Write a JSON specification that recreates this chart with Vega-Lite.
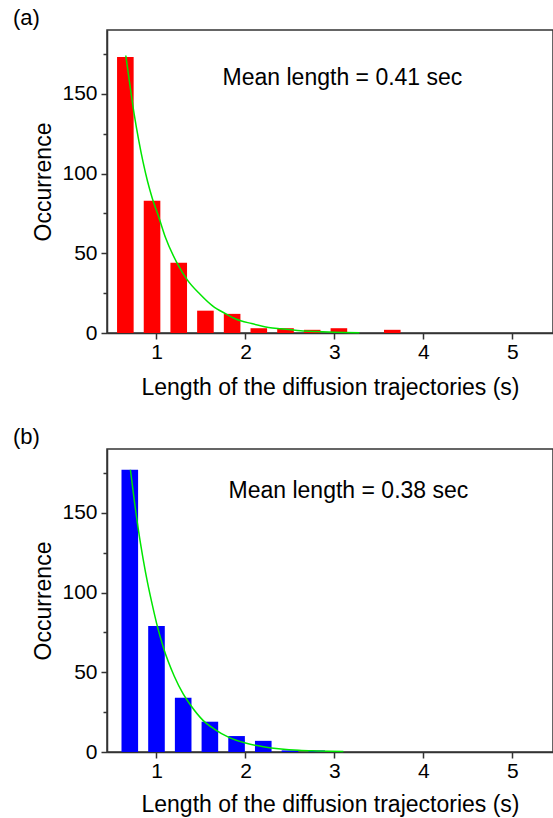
{
  "$schema": "https://vega.github.io/schema/vega-lite/v6.json",
  "padding": {"left": 12, "top": 6, "right": 0, "bottom": 0},
  "background": "white",
  "spacing": 25,
  "config": {
    "font": "Liberation Sans",
    "view": {"stroke": "#333333", "strokeWidth": 1.5},
    "axis": {
      "domainColor": "#333333", "domainWidth": 1.5,
      "tickColor": "#333333", "tickWidth": 1.5,
      "labelFontSize": 21, "labelColor": "#000000",
      "titleFontSize": 23, "titleFontWeight": "normal", "titleColor": "#000000",
      "grid": false
    },
    "title": {"fontSize": 22, "fontWeight": "normal", "anchor": "start", "frame": "group", "color": "#000000"}
  },
  "datasets": {
    "barsA": [
      {"length": 0.65, "count": 173}, {"length": 0.95, "count": 83}, {"length": 1.25, "count": 44},
      {"length": 1.55, "count": 14}, {"length": 1.85, "count": 12}, {"length": 2.15, "count": 3},
      {"length": 2.45, "count": 3}, {"length": 2.75, "count": 2}, {"length": 3.05, "count": 3},
      {"length": 3.65, "count": 2}
    ],
    "curveA": [
      {"length": 0.655, "fit": 174}, {"length": 0.70, "fit": 156}, {"length": 0.75, "fit": 137},
      {"length": 0.80, "fit": 121}, {"length": 0.85, "fit": 107}, {"length": 0.90, "fit": 95},
      {"length": 0.95, "fit": 85}, {"length": 1.03, "fit": 72}, {"length": 1.10, "fit": 60},
      {"length": 1.23, "fit": 44}, {"length": 1.35, "fit": 33}, {"length": 1.49, "fit": 24.3},
      {"length": 1.63, "fit": 17}, {"length": 1.78, "fit": 12}, {"length": 1.89, "fit": 8.8},
      {"length": 2.07, "fit": 5.9}, {"length": 2.26, "fit": 3.5}, {"length": 2.40, "fit": 2.6},
      {"length": 2.62, "fit": 1.4}, {"length": 2.80, "fit": 0.9}, {"length": 3.00, "fit": 0.5},
      {"length": 3.28, "fit": 0.2}
    ],
    "barsB": [
      {"length": 0.7, "count": 177}, {"length": 1.0, "count": 79}, {"length": 1.3, "count": 34},
      {"length": 1.6, "count": 19}, {"length": 1.9, "count": 10}, {"length": 2.2, "count": 7},
      {"length": 2.5, "count": 1}, {"length": 2.8, "count": 1}
    ],
    "curveB": [
      {"length": 0.707, "fit": 177}, {"length": 0.75, "fit": 158}, {"length": 0.80, "fit": 138},
      {"length": 0.85, "fit": 121}, {"length": 0.90, "fit": 106}, {"length": 0.95, "fit": 93},
      {"length": 1.00, "fit": 81}, {"length": 1.08, "fit": 65}, {"length": 1.20, "fit": 47.5},
      {"length": 1.30, "fit": 36.4}, {"length": 1.38, "fit": 29.6}, {"length": 1.52, "fit": 20},
      {"length": 1.65, "fit": 14.4}, {"length": 1.82, "fit": 9}, {"length": 2.00, "fit": 5.6},
      {"length": 2.20, "fit": 3.3}, {"length": 2.40, "fit": 1.9}, {"length": 2.60, "fit": 1.1},
      {"length": 2.80, "fit": 0.7}, {"length": 3.10, "fit": 0.3}
    ]
  },
  "vconcat": [
    {
      "width": 446, "height": 303,
      "title": {"text": "(a)", "dx": -94, "offset": 0},
      "layer": [
        {
          "data": {"name": "barsA"},
          "mark": {"type": "bar", "color": "#FF0000", "width": 16.6},
          "encoding": {
            "x": {"field": "length", "type": "quantitative",
              "scale": {"domain": [0.5, 5.4], "nice": false, "zero": false},
              "axis": {"values": [1, 1.5, 2, 2.5, 3, 3.5, 4, 4.5, 5], "format": "d",
                "labelExpr": "datum.value % 1 === 0 ? datum.label : ''",
                "tickSize": {"condition": {"test": "datum.value % 1 === 0", "value": 6}, "value": 4},
                "labelPadding": 2, "titlePadding": 14,
                "title": "Length of the diffusion trajectories (s)"}},
            "y": {"field": "count", "type": "quantitative",
              "scale": {"domain": [0, 190], "nice": false},
              "axis": {"values": [0, 25, 50, 75, 100, 125, 150, 175],
                "labelExpr": "datum.value % 50 === 0 ? datum.label : ''",
                "tickSize": {"condition": {"test": "datum.value % 50 === 0", "value": 6}, "value": 4},
                "labelPadding": 4, "titlePadding": 6, "title": "Occurrence"}}
          }
        },
        {
          "data": {"name": "curveA"},
          "mark": {"type": "line", "color": "#00E600", "strokeWidth": 1.5, "interpolate": "monotone"},
          "encoding": {
            "x": {"field": "length", "type": "quantitative"},
            "y": {"field": "fit", "type": "quantitative"}
          }
        },
        {
          "data": {"values": [{}]},
          "mark": {"type": "text", "fontSize": 23, "align": "center", "baseline": "alphabetic", "color": "#000000"},
          "encoding": {
            "x": {"datum": 3.09, "type": "quantitative"},
            "y": {"datum": 155.4, "type": "quantitative"},
            "text": {"value": "Mean length = 0.41 sec"}
          }
        }
      ]
    },
    {
      "width": 446, "height": 303,
      "title": {"text": "(b)", "dx": -94, "offset": 0},
      "layer": [
        {
          "data": {"name": "barsB"},
          "mark": {"type": "bar", "color": "#0000FF", "width": 16.6},
          "encoding": {
            "x": {"field": "length", "type": "quantitative",
              "scale": {"domain": [0.5, 5.4], "nice": false, "zero": false},
              "axis": {"values": [1, 1.5, 2, 2.5, 3, 3.5, 4, 4.5, 5], "format": "d",
                "labelExpr": "datum.value % 1 === 0 ? datum.label : ''",
                "tickSize": {"condition": {"test": "datum.value % 1 === 0", "value": 6}, "value": 4},
                "labelPadding": 2, "titlePadding": 12,
                "title": "Length of the diffusion trajectories (s)"}},
            "y": {"field": "count", "type": "quantitative",
              "scale": {"domain": [0, 190], "nice": false},
              "axis": {"values": [0, 25, 50, 75, 100, 125, 150, 175],
                "labelExpr": "datum.value % 50 === 0 ? datum.label : ''",
                "tickSize": {"condition": {"test": "datum.value % 50 === 0", "value": 6}, "value": 4},
                "labelPadding": 4, "titlePadding": 6, "title": "Occurrence"}}
          }
        },
        {
          "data": {"name": "curveB"},
          "mark": {"type": "line", "color": "#00E600", "strokeWidth": 1.5, "interpolate": "monotone"},
          "encoding": {
            "x": {"field": "length", "type": "quantitative"},
            "y": {"field": "fit", "type": "quantitative"}
          }
        },
        {
          "data": {"values": [{}]},
          "mark": {"type": "text", "fontSize": 23, "align": "center", "baseline": "alphabetic", "color": "#000000"},
          "encoding": {
            "x": {"datum": 3.157, "type": "quantitative"},
            "y": {"datum": 159.3, "type": "quantitative"},
            "text": {"value": "Mean length = 0.38 sec"}
          }
        }
      ]
    }
  ]
}
